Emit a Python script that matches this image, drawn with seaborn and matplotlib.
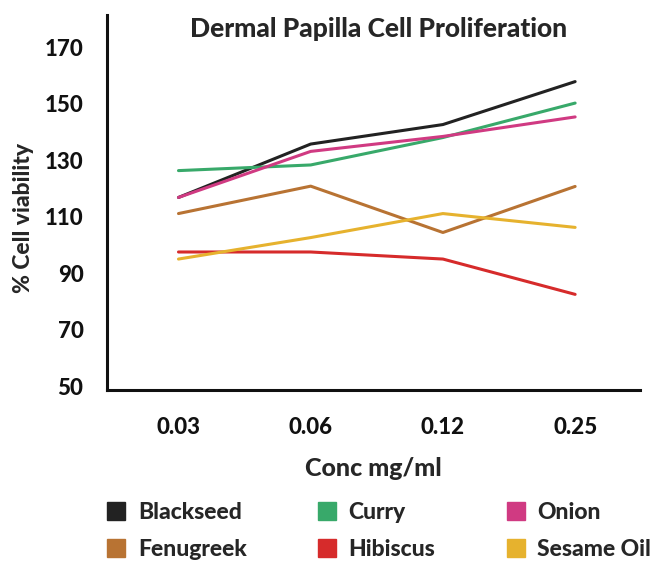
import matplotlib
matplotlib.use("Agg")
import matplotlib.pyplot as plt
import seaborn as sns
import pandas as pd
from matplotlib.lines import Line2D

conc = ["0.03", "0.06", "0.12", "0.25"]
blackseed = [116.8, 135.7, 142.6, 157.8]
curry = [126.3, 128.3, 138.0, 150.2]
onion = [116.8, 133.1, 138.4, 145.3]
fenugreek = [111.1, 120.8, 104.4, 120.7]
hibiscus = [97.5, 97.5, 95.0, 82.5]
sesame = [95.0, 102.6, 111.1, 106.2]

names = ["Blackseed", "Curry", "Onion", "Fenugreek", "Hibiscus", "Sesame Oil"]
series = [blackseed, curry, onion, fenugreek, hibiscus, sesame]
colors = ["#222222", "#38a96a", "#d03a82", "#b87333", "#d62b2b", "#e6b22e"]

rows = []
for n, vals in zip(names, series):
    for i, v in enumerate(vals):
        rows.append({"pos": i, "conc": conc[i], "extract": n, "viability": v})
df = pd.DataFrame(rows)

sns.set_theme(style="white")
plt.rcParams["font.family"] = ["Lato", "DejaVu Sans"]
W = 900

fig = plt.figure(figsize=(6.57, 5.63), dpi=100)
ax = fig.add_axes([0.163, 0.307, 0.811, 0.666])

sns.lineplot(data=df, x="pos", y="viability", hue="extract", hue_order=names,
             palette=dict(zip(names, colors)), linewidth=2.2, legend=False, ax=ax)

ax.set_xlim(-0.54, 3.49)
ax.set_ylim(48.6, 181.3)
ax.set_xticks(range(len(conc)))
ax.set_xticklabels(conc)
ax.set_yticks([50, 70, 90, 110, 130, 150, 170])
ax.tick_params(axis="both", length=0, labelsize=16, colors="#111111")
ax.tick_params(axis="x", pad=19)
ax.tick_params(axis="y", pad=17)
for lbl in ax.get_xticklabels() + ax.get_yticklabels():
    lbl.set_fontweight(W)

for s in ["top", "right"]:
    ax.spines[s].set_visible(False)
for s in ["left", "bottom"]:
    ax.spines[s].set_color("#111111")
    ax.spines[s].set_linewidth(2.2)

ax.set_xlabel("Conc mg/ml", fontsize=18, fontweight=W, labelpad=14)
ax.set_ylabel("% Cell viability", fontsize=16.5, fontweight=W)
ax.yaxis.set_label_coords(-0.138, 0.46)
ax.set_title("Dermal Papilla Cell Proliferation", fontsize=19, fontweight=W,
             y=0.92, x=0.51)

# legend row-major: reorder for column-major filling
order = [0, 3, 1, 4, 2, 5]
handles = [Line2D([], [], marker="s", linestyle="none", markersize=12.5,
                  color=colors[i]) for i in order]
labels = [names[i] for i in order]
fig.legend(handles, labels, ncol=3, loc="lower left", bbox_to_anchor=(0.135, -0.023),
           frameon=False, prop={"size": 16.5, "weight": W}, borderaxespad=0.3,
           handlelength=1.0, handletextpad=0.45, columnspacing=3.0, labelspacing=0.7)

fig.savefig("out.png", dpi=100)
